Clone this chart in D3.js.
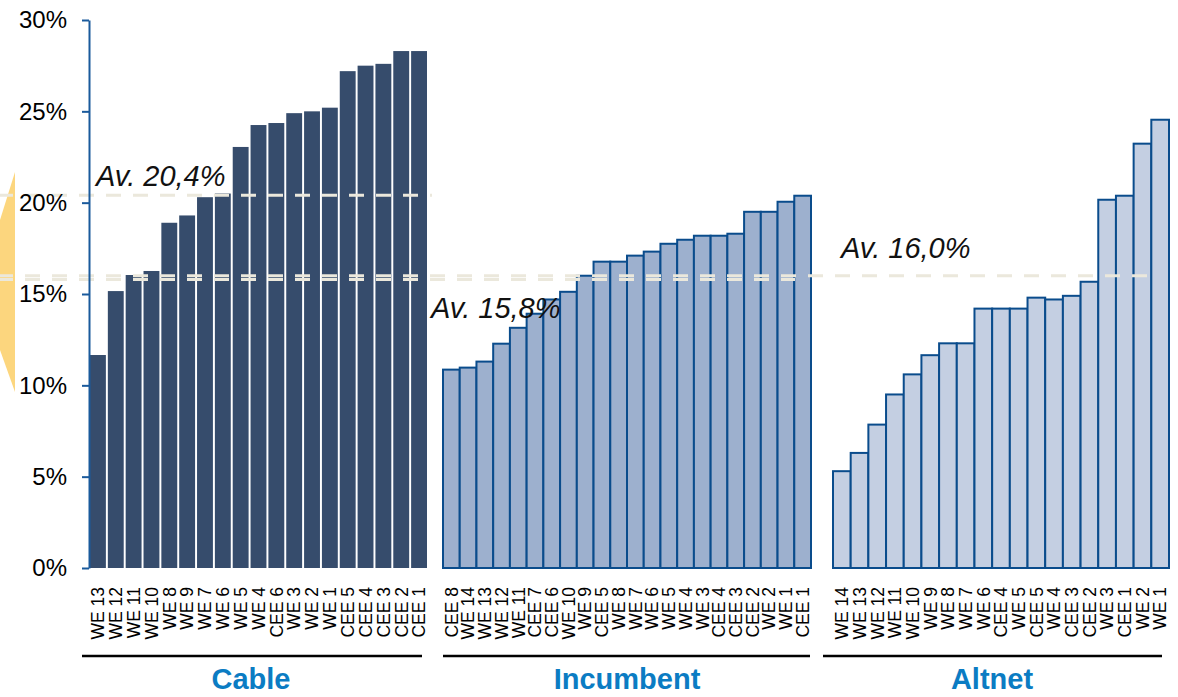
<!DOCTYPE html>
<html>
<head>
<meta charset="utf-8">
<script src="https://cdn.jsdelivr.net/npm/d3@7"></script>
<style>
  html, body { margin: 0; padding: 0; background: #fff; }
  svg { display: block; font-family: "Liberation Sans", Arial, sans-serif; }
</style>
</head>
<body>
<svg id="chart" width="1178" height="697"></svg>
<script>
// Share values (%) per operator type, sorted ascending within each group
const yTicks = [0, 5, 10, 15, 20, 25, 30];

const cableCats = ["WE 13", "WE 12", "WE 11", "WE 10", "WE 8", "WE 9", "WE 7", "WE 6", "WE 5", "WE 4",
                   "CEE 6", "WE 3", "WE 2", "WE 1", "CEE 5", "CEE 4", "CEE 3", "CEE 2", "CEE 1"];
const cableValues = [11.66, 15.16, 16.04, 16.26, 18.9, 19.3, 20.3, 20.5, 23.05, 24.25,
                     24.36, 24.9, 25.0, 25.2, 27.2, 27.5, 27.6, 28.3, 28.3];

const incumbentCats = ["CEE 8", "WE 14", "WE 13", "WE 12", "WE 11", "CEE 7", "CEE 6", "WE 10", "WE 9", "CEE 5",
                       "WE 8", "WE 7", "WE 6", "WE 5", "WE 4", "WE 3", "CEE 4", "CEE 3", "CEE 2", "WE 2",
                       "WE 1", "CEE 1"];
const incumbentValues = [10.86, 10.97, 11.3, 12.28, 13.15, 13.92, 14.7, 15.12, 16.0, 16.77,
                         16.77, 17.1, 17.32, 17.75, 17.97, 18.19, 18.19, 18.3, 19.5, 19.5,
                         20.05, 20.38];

const altnetCats = ["WE 14", "WE 13", "WE 12", "WE 11", "WE 10", "WE 9", "WE 8", "WE 7", "WE 6", "CEE 4",
                    "WE 5", "CEE 5", "WE 4", "CEE 3", "CEE 2", "WE 3", "CEE 1", "WE 2", "WE 1"];
const altnetValues = [5.3, 6.3, 7.85, 9.5, 10.6, 11.65, 12.3, 12.3, 14.2, 14.2,
                      14.2, 14.8, 14.7, 14.9, 15.67, 20.16, 20.38, 23.23, 24.54];

const groupNames = ["Cable", "Incumbent", "Altnet"];
const groupAverages = [20.4, 15.8, 16.0];
const averageLabels = ["Av. 20,4%", "Av. 15,8%", "Av. 16,0%"];

// ---- layout ----
const svg = d3.select("#chart");
const y = d3.scaleLinear().domain([0, 30]).range([568, 20]);
const fmtPct = d => d + "%";

const groups = [
  { name: groupNames[0], cats: cableCats, vals: cableValues, avg: groupAverages[0], avgText: averageLabels[0],
    range: [90, 427], pad: 0.11, fill: "#364c6c", stroke: "none",
    underline: [82, 422], titleX: 251, avgLineEnd: 432, avgTextX: 96, avgTextDy: -9 },
  { name: groupNames[1], cats: incumbentCats, vals: incumbentValues, avg: groupAverages[1], avgText: averageLabels[1],
    range: [443, 811], pad: 0, fill: "#9db0ce", stroke: "#0a4c8c",
    underline: [443, 810], titleX: 627, avgLineEnd: 795, avgTextX: 431, avgTextDy: 39 },
  { name: groupNames[2], cats: altnetCats, vals: altnetValues, avg: groupAverages[2], avgText: averageLabels[2],
    range: [833, 1169], pad: 0, fill: "#c4cfe2", stroke: "#0a4c8c",
    underline: [823, 1162], titleX: 992, avgLineEnd: 1158, avgTextX: 841, avgTextDy: -18 }
];

// decorative bracket at the left edge
svg.append("path")
  .attr("d", "M15,172 L15,392 L0,350 L0,220 Z")
  .attr("fill", "#fcd67e");

// bars
groups.forEach(g => {
  const x = d3.scaleBand().domain(d3.range(g.cats.length)).range(g.range).paddingInner(g.pad).paddingOuter(0);
  const layer = svg.append("g");
  layer.selectAll("rect")
    .data(g.vals)
    .join("rect")
    .attr("x", (d, i) => x(i))
    .attr("y", d => y(d))
    .attr("width", x.bandwidth())
    .attr("height", d => y(0) - y(d))
    .attr("fill", g.fill)
    .attr("stroke", g.stroke)
    .attr("stroke-width", g.stroke === "none" ? 0 : 2);

  // rotated category labels
  svg.append("g").selectAll("text")
    .data(g.cats)
    .join("text")
    .attr("transform", (d, i) => `translate(${x(i) + x.bandwidth() / 2},587) rotate(-90)`)
    .attr("text-anchor", "end")
    .attr("dy", "0.36em")
    .attr("font-size", 17.5)
    .attr("fill", "#000")
    .text(d => d);

  // group underline and title
  svg.append("line")
    .attr("x1", g.underline[0]).attr("x2", g.underline[1])
    .attr("y1", 656).attr("y2", 656)
    .attr("stroke", "#000").attr("stroke-width", 2.5);
  svg.append("text")
    .attr("x", g.titleX).attr("y", 689)
    .attr("text-anchor", "middle")
    .attr("font-size", 29).attr("font-weight", "bold")
    .attr("fill", "#0b7cc3")
    .text(g.name);
});

// average lines and labels
groups.forEach(g => {
  svg.append("line")
    .attr("x1", -2).attr("x2", g.avgLineEnd)
    .attr("y1", y(g.avg)).attr("y2", y(g.avg))
    .attr("stroke", "#ebe8dc").attr("stroke-width", 3)
    .attr("stroke-dasharray", "15,12");
  svg.append("text")
    .attr("x", g.avgTextX).attr("y", y(g.avg) + g.avgTextDy)
    .attr("font-size", 29).attr("font-style", "italic")
    .attr("fill", "#111")
    .text(g.avgText);
});

// y axis
const axis = svg.append("g")
  .attr("transform", "translate(89,0)")
  .call(d3.axisLeft(y).tickValues(yTicks).tickFormat(fmtPct).tickSize(7).tickSizeOuter(0).tickPadding(15));
axis.select(".domain").attr("stroke", "#1a5a9c").attr("stroke-width", 2);
axis.selectAll(".tick line").attr("stroke", "#1a5a9c").attr("stroke-width", 2);
axis.selectAll(".tick text")
  .attr("font-size", 24)
  .attr("font-family", "Liberation Sans, Arial, sans-serif")
  .attr("fill", "#000");
</script>
</body>
</html>
